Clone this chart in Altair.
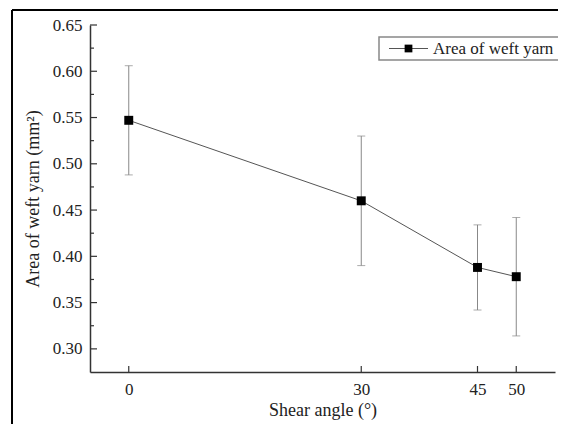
import altair as alt
import pandas as pd

angles = [0, 30, 45, 50]
area = [0.547, 0.460, 0.388, 0.378]
err_low = [0.488, 0.390, 0.342, 0.314]
err_high = [0.606, 0.530, 0.434, 0.442]

y_major = [0.30, 0.35, 0.40, 0.45, 0.50, 0.55, 0.60, 0.65]
y_minor = [0.325, 0.375, 0.425, 0.475, 0.525, 0.575, 0.625]
x_ticks = [0, 30, 45, 50]
legend_label = "Area of weft yarn"

FONT = "Liberation Serif"
W, H = 465, 347

df = pd.DataFrame({"angle": angles, "area": area, "lo": err_low, "hi": err_high})

xs = alt.Scale(domain=[-5, 55], nice=False, zero=False)
ys = alt.Scale(domain=[0.275, 0.65], nice=False, zero=False)

axis_style = dict(labelFont=FONT, titleFont=FONT, labelFontSize=17, titleFontSize=18,
                  labelColor="#222222", titleColor="#222222", titleFontWeight="normal",
                  domainColor="#333333", domainWidth=1.5, grid=False, tickSize=0)

xaxis = alt.Axis(values=x_ticks, labelPadding=9, title="Shear angle (°)",
                 titlePadding=4, **axis_style)
yaxis = alt.Axis(values=y_major, format=".2f", labelPadding=8,
                 title="Area of weft yarn (mm²)", titlePadding=10, **axis_style)

base = alt.Chart(df)

err = base.mark_rule(color="#888888", strokeWidth=1).encode(
    x=alt.X("angle:Q", scale=xs, axis=xaxis),
    y=alt.Y("lo:Q", scale=ys, axis=yaxis), y2="hi:Q")
cap_lo = base.mark_tick(color="#888888", thickness=1, size=8, orient="horizontal").encode(
    x=alt.X("angle:Q", scale=xs), y=alt.Y("lo:Q", scale=ys))
cap_hi = base.mark_tick(color="#888888", thickness=1, size=8, orient="horizontal").encode(
    x=alt.X("angle:Q", scale=xs), y=alt.Y("hi:Q", scale=ys))
line = base.mark_line(color="#555555", strokeWidth=1).encode(
    x=alt.X("angle:Q", scale=xs), y=alt.Y("area:Q", scale=ys))
pts = base.mark_square(color="black", size=80, opacity=1).encode(
    x=alt.X("angle:Q", scale=xs), y=alt.Y("area:Q", scale=ys))

# inward ticks
ymaj = alt.Chart(pd.DataFrame({"v": y_major})).mark_rule(color="#333333", strokeWidth=1.2).encode(
    y=alt.Y("v:Q", scale=ys), x=alt.value(0), x2=alt.value(7))
ymin = alt.Chart(pd.DataFrame({"v": y_minor})).mark_rule(color="#333333", strokeWidth=1.2).encode(
    y=alt.Y("v:Q", scale=ys), x=alt.value(0), x2=alt.value(4))
xt = alt.Chart(pd.DataFrame({"v": x_ticks})).mark_rule(color="#333333", strokeWidth=1.2).encode(
    x=alt.X("v:Q", scale=xs), y=alt.value(H), y2=alt.value(H - 6))

one = alt.Data(values=[{"k": 1}])
# legend
lg_box = alt.Chart(one).mark_rect(fill="white", stroke="#888888", strokeWidth=1.5).encode(
    x=alt.value(289), x2=alt.value(477), y=alt.value(12), y2=alt.value(35))
lg_line = alt.Chart(one).mark_rule(color="#555555", strokeWidth=1).encode(
    x=alt.value(299), x2=alt.value(338), y=alt.value(23.5))
lg_pt = alt.Chart(one).mark_square(color="black", size=60, opacity=1).encode(
    x=alt.value(318.5), y=alt.value(23.5))
lg_txt = alt.Chart(one).mark_text(text=legend_label, font=FONT, fontSize=17, color="#222222",
                                  align="left", baseline="middle").encode(
    x=alt.value(343), y=alt.value(23.5))

# outer frame
fr_top = alt.Chart(one).mark_rule(color="black", strokeWidth=2).encode(
    x=alt.value(-78), x2=alt.value(490), y=alt.value(-15))
fr_left = alt.Chart(one).mark_rule(color="black", strokeWidth=2).encode(
    x=alt.value(-78), y=alt.value(-15), y2=alt.value(430))

chart = alt.layer(
    err, cap_lo, cap_hi, line, pts, ymaj, ymin, xt,
    lg_box, lg_line, lg_pt, lg_txt, fr_top, fr_left
).properties(
    width=W, height=H,
    autosize=alt.AutoSizeParams(type="none"),
    padding={"left": 82, "top": 17, "right": 3, "bottom": 52},
).configure_view(stroke=None)

chart.save("out.html", embed_options={"renderer": "svg", "actions": False})
